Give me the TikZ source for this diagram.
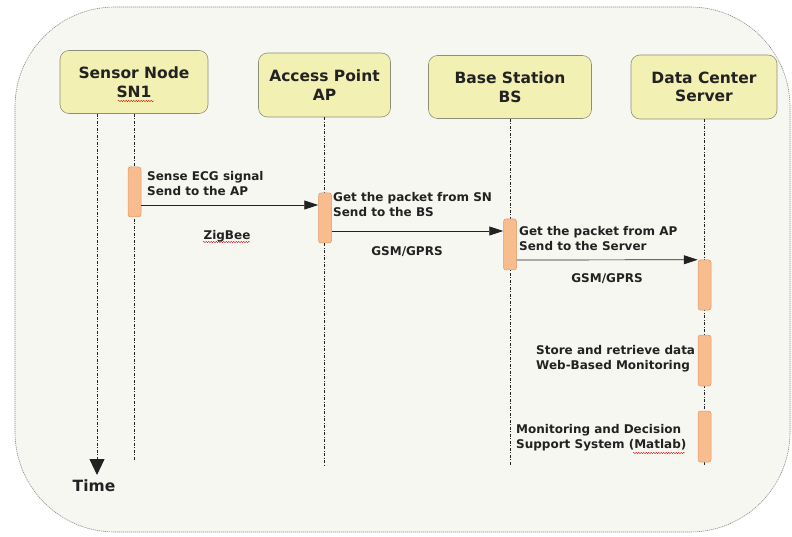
\documentclass[tikz,border=0pt]{standalone}
\usepackage{fontspec}
\setmainfont{DejaVu Sans}
\usetikzlibrary{arrows.meta,decorations.pathmorphing}
\definecolor{framefill}{HTML}{F7F7F2}
\definecolor{framegray}{HTML}{8A8A8A}
\definecolor{headfill}{HTML}{F2F0B3}
\definecolor{headline}{HTML}{8E8E78}
\definecolor{barfill}{HTML}{F8BC8E}
\definecolor{barline}{HTML}{D99A6C}
\definecolor{inkc}{HTML}{222222}
\tikzset{
  header/.style={draw=headline, fill=headfill, rounded corners=9pt, line width=0.6pt,
    align=center, font=\fontsize{15.5}{18.5}\selectfont\bfseries, text=inkc, inner sep=0pt},
  lifeline/.style={draw=inkc, line width=0.9pt,
    dash pattern=on 3pt off 1.5pt on 1pt off 1.5pt},
  actbar/.style={draw=barline, fill=barfill, rounded corners=2.5pt, line width=0.5pt,
    minimum width=13pt, inner sep=0pt},
  msg/.style={draw=inkc, line width=0.7pt, -{Triangle[length=14pt,width=9pt]}},
  note/.style={font=\fontsize{12}{15}\selectfont\bfseries, text=inkc, align=left, inner sep=0pt},
  spell/.style={draw=red!80!black, line width=0.4pt,
    decorate, decoration={snake, amplitude=0.6pt, segment length=2.5pt}}
}
\begin{document}
\begin{tikzpicture}[x=1pt, y=-1pt]
\useasboundingbox (0,0) rectangle (792,537);

% outer frame
\draw[draw=framegray, fill=framefill, line width=0.6pt, dash pattern=on 1.2pt off 0.8pt,
  rounded corners=100pt] (15,7) rectangle (790,532);

% participants
\node[header, minimum width=148pt, minimum height=63pt] (sn) at (134,82) {Sensor Node\\SN1};
\node[header, minimum width=132pt, minimum height=64pt] (ap) at (324.5,85) {Access Point\\AP};
\node[header, minimum width=163pt, minimum height=63pt] (bs) at (510,87) {Base Station\\BS};
\node[header, minimum width=146pt, minimum height=64pt] (dc) at (704,87) {Data Center\\Server};

% free ends of the lifelines
\coordinate (tsTop) at (sn.south -| 97,0);
\coordinate (tsEnd) at (97,475);
\coordinate (snTop) at (sn.south -| 134,0);
\coordinate (snEnd) at (134,460);
\coordinate (apEnd) at (324.5,465);
\coordinate (bsEnd) at (510,465);
\coordinate (dcEnd) at (704,466);

% lifelines
\draw[lifeline, -{Triangle[length=16pt,width=15pt]}] (tsTop) -- (tsEnd);
\draw[lifeline] (snTop) -- (snEnd);
\draw[lifeline] (ap.south) -- (apEnd);
\draw[lifeline] (bs.south) -- (bsEnd);
\draw[lifeline] (dc.south) -- (dcEnd);

\node[font=\fontsize{15.5}{18}\selectfont\bfseries, text=inkc] (time) at (94,486) {Time};

% activation bars
\node[actbar, minimum height=50pt] (b1) at (134.5,192) {};
\node[actbar, minimum height=50pt] (b2) at (325,218) {};
\node[actbar, minimum height=51pt] (b3) at (510,244.5) {};
\node[actbar, minimum height=50pt] (b4) at (704.5,285) {};
\node[actbar, minimum height=51pt] (b5) at (704.5,360.5) {};
\node[actbar, minimum height=51pt] (b6) at (704.5,436.5) {};

% messages
\draw[msg] (b1.east |- 0,205) -- (b2.west |- 0,205);
\draw[msg] (b2.east |- 0,231) -- (b3.west |- 0,231);
\draw[msg] (b3.east |- 0,260) -- (b4.north west);

% annotations
\node[note, anchor=west] (t1) at (147,184) {Sense ECG signal\\Send to the AP};
\node[note] (z1) at (227,236) {ZigBee};
\node[note, anchor=west] (t2) at (333,204.5) {Get the packet from SN\\Send to the BS};
\node[note] (g1) at (407,252) {GSM/GPRS};
\node[note, anchor=west] (t3) at (519,239) {Get the packet from AP\\Send to the Server};
\node[note] (g2) at (607,279) {GSM/GPRS};
\node[note, anchor=west] (t4) at (536,359) {Store and retrieve data\\Web-Based Monitoring};
\node[note, anchor=west] (t5) at (516,438) {Monitoring and Decision\\Support System (Matlab)};

% spell-check marks
\draw[spell] (118,101) -- (154,101);
\draw[spell] (203,242) -- (250,242);
\draw[spell] (633,453) -- (685,453);
\end{tikzpicture}
\end{document}
